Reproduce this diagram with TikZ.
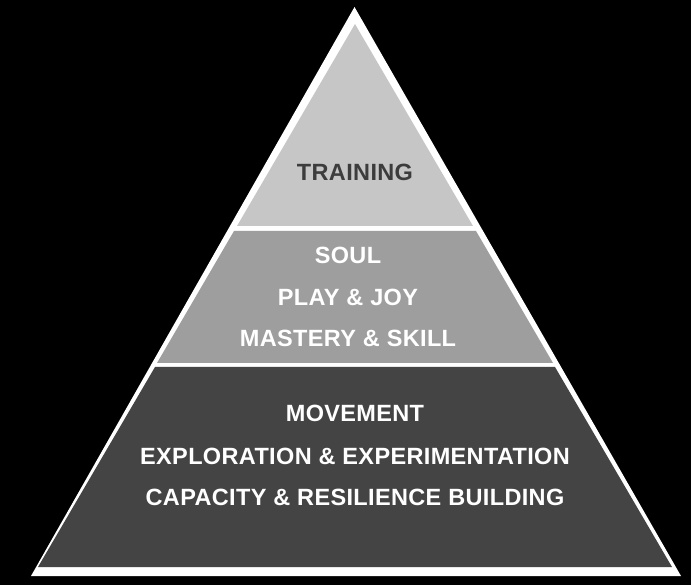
\documentclass[tikz,border=0pt]{standalone}
\usepackage{fontspec}
\setmainfont{Liberation Sans}
\newfontfamily\tierfont{Liberation Sans}[LetterSpace=1.5]
\usepackage{tikz}

\definecolor{tiertop}{HTML}{C6C6C6}
\definecolor{tiermid}{HTML}{9E9E9E}
\definecolor{tierlow}{HTML}{444444}
\definecolor{darktext}{HTML}{3C3C3C}

\tikzset{
  tierlabel/.style={font=\tierfont\bfseries\fontsize{23.5}{28}\selectfont, inner sep=0pt, anchor=center},
  lighttext/.style={tierlabel, text=white},
}

\begin{document}
\begin{tikzpicture}[line cap=round,line join=round,x=1pt,y=-1pt]
\useasboundingbox (0,0) rectangle (691,585);
\fill [black] (0,0) rectangle (691,585);
% white outline
\fill [white] (354.5,7)-- (681,576)-- (31,576)-- cycle;
% tiers
\fill [tiertop] (355,24)-- (473,226)-- (237,226)-- cycle;
\fill [tiermid] (234,231)-- (476,231)-- (553,363)-- (157,363)-- cycle;
\fill [tierlow] (155,367)-- (555,367)-- (672,567)-- (38,567)-- cycle;
% labels
\node [tierlabel, text=darktext] (training) at (355,172) {TRAINING};
\node [lighttext] (soul) at (348,255) {SOUL};
\node [lighttext] (play) at (348,297) {PLAY \& JOY};
\node [lighttext] (mastery) at (348,338) {MASTERY \& SKILL};
\node [lighttext] (movement) at (355,413) {MOVEMENT};
\node [lighttext] (exploration) at (355,456) {EXPLORATION \& EXPERIMENTATION};
\node [lighttext] (capacity) at (355,497) {CAPACITY \& RESILIENCE BUILDING};
\end{tikzpicture}
\end{document}
